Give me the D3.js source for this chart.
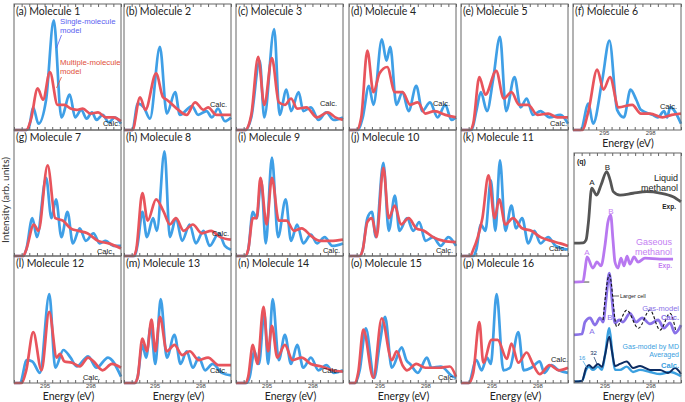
<!DOCTYPE html>
<html><head><meta charset="utf-8">
<script src="https://cdn.jsdelivr.net/npm/d3@7"></script>
<style>body{margin:0;background:#fff}svg{display:block}</style>
</head><body><svg id="c" width="685" height="402"></svg>
<script>
// ---------------- DATA ----------------
const energyDomain = [293, 300];
const tickStep = 0.5;
const tickLabels = [295, 298];
const panelTitles = ["(a) Molecule 1","(b) Molecule 2","(c) Molecule 3","(d) Molecule 4","(e) Molecule 5","(f) Molecule 6",
  "(g) Molecule 7","(h) Molecule 8","(i) Molecule 9","(j) Molecule 10","(k) Molecule 11",
  "(l) Molecule 12","(m) Molecule 13","(n) Molecule 14","(o) Molecule 15","(p) Molecule 16"];

// [energy eV, intensity (fraction of panel height)]
const single1 = [[293,0],[293.8,0],[294.0,0.03],[294.25,0.18],[294.6,0.05],[295.1,0.24],[295.6,0.87],[296.1,0.1],[296.65,0.28],[297.0,0.1],[297.4,0.16],[297.75,0.09],[298.1,0.14],[298.4,0.08],[298.8,0.12],[299.2,0.06],[299.6,0.1],[300,0.05]];
const multi1  = [[293,0],[293.8,0],[294.1,0.08],[294.55,0.33],[294.9,0.24],[295.35,0.46],[295.85,0.2],[296.3,0.2],[296.7,0.17],[297.1,0.16],[297.5,0.17],[298,0.13],[298.5,0.14],[299,0.1],[299.5,0.1],[300,0.07]];
const single2 = [[293,0],[293.55,0],[293.9,0.21],[294.3,0.18],[294.7,0.09],[295.35,0.66],[295.8,0.13],[296.35,0.3],[296.65,0.12],[297.45,0.19],[297.85,0.12],[298.4,0.15],[298.75,0.1],[299.15,0.17],[299.6,0.07],[300,0.1]];
const multi2  = [[293,0],[293.55,0],[294.05,0.26],[294.4,0.16],[295.1,0.45],[295.55,0.26],[295.8,0.24],[296.45,0.17],[297.1,0.12],[297.65,0.22],[298.2,0.16],[298.5,0.18],[299.05,0.12],[300,0.12]];
const single3 = [[293,0],[293.6,0],[294.0,0.1],[294.55,0.55],[294.85,0.1],[295.5,0.8],[295.85,0.12],[296.3,0.32],[296.6,0.15],[297.1,0.3],[297.4,0.15],[297.9,0.18],[298.4,0.08],[298.9,0.14],[299.4,0.08],[300,0.1]];
const multi3  = [[293,0],[293.6,0],[294.0,0.12],[294.45,0.58],[294.85,0.2],[295.35,0.57],[295.8,0.22],[296.2,0.2],[296.6,0.25],[297.0,0.17],[297.6,0.18],[298.3,0.1],[299,0.14],[299.5,0.1],[300,0.08]];
const single4 = [[293,0],[293.6,0],[293.9,0.1],[294.3,0.35],[294.6,0.2],[295.15,0.72],[295.45,0.55],[295.7,0.66],[296.1,0.2],[296.5,0.3],[296.9,0.15],[297.4,0.35],[297.8,0.15],[298.3,0.22],[298.8,0.1],[299.3,0.2],[299.7,0.08],[300,0.1]];
const multi4  = [[293,0],[293.5,0],[293.8,0.1],[294.2,0.63],[294.6,0.3],[295.0,0.45],[295.5,0.5],[296.0,0.3],[296.5,0.3],[297.0,0.2],[297.5,0.22],[298.0,0.13],[298.6,0.15],[299.3,0.12],[300,0.1]];
const single5 = [[293,0],[293.7,0],[294.0,0.15],[294.3,0.3],[294.7,0.15],[295.1,0.4],[295.55,0.74],[295.95,0.15],[296.5,0.42],[296.9,0.18],[297.3,0.25],[297.7,0.12],[298.2,0.15],[298.8,0.1],[299.5,0.12],[300,0.05]];
const multi5  = [[293,0],[293.6,0],[293.8,0.05],[294.2,0.42],[294.6,0.28],[295.3,0.47],[295.8,0.25],[296.3,0.3],[296.8,0.2],[297.4,0.2],[298,0.12],[298.7,0.13],[299.3,0.1],[300,0.1]];
const single6 = [[293,0],[293.5,0],[294.0,0.21],[294.3,0.05],[294.9,0.4],[295.36,0.71],[295.86,0.16],[296.3,0.1],[296.73,0.32],[297.1,0.24],[297.4,0.16],[298.15,0.12],[298.5,0.1],[298.9,0.15],[299.1,0.1],[299.3,0.18],[300,0.05]];
const multi6  = [[293,0],[293.6,0],[294.0,0.15],[294.57,0.48],[294.97,0.32],[295.4,0.42],[295.95,0.18],[296.84,0.2],[297.4,0.13],[298.0,0.13],[298.8,0.1],[299.4,0.12],[300,0.13]];
const single7 = [[293,0],[293.6,0],[293.8,0.05],[294.2,0.3],[294.5,0.15],[295.1,0.62],[295.45,0.3],[295.75,0.45],[296.1,0.15],[296.5,0.35],[296.85,0.1],[297.3,0.22],[297.7,0.12],[298.2,0.18],[298.6,0.1],[299.0,0.12],[299.5,0.08],[300,0.08]];
const multi7  = [[293,0],[293.6,0],[293.8,0.05],[294.3,0.25],[294.6,0.2],[295.2,0.72],[295.7,0.3],[296.2,0.28],[296.7,0.22],[297.2,0.2],[297.8,0.18],[298.5,0.12],[299.2,0.1],[300,0.06]];
const single8 = [[293,0],[293.7,0],[293.9,0.1],[294.2,0.35],[294.5,0.15],[294.9,0.3],[295.15,0.2],[295.65,0.83],[296.0,0.15],[296.4,0.3],[296.8,0.12],[297.3,0.25],[297.7,0.1],[298.2,0.2],[298.6,0.08],[299.2,0.18],[299.6,0.08],[300,0.05]];
const multi8  = [[293,0],[293.6,0],[293.8,0.05],[294.2,0.5],[294.55,0.28],[295.1,0.45],[295.6,0.35],[296.0,0.25],[296.4,0.3],[296.9,0.2],[297.5,0.25],[298.1,0.18],[298.7,0.2],[299.3,0.15],[300,0.13]];
const single9 = [[293,0],[293.6,0],[293.8,0.05],[294.1,0.35],[294.35,0.3],[294.65,0.6],[294.95,0.1],[295.35,0.78],[295.75,0.15],[296.25,0.45],[296.6,0.12],[297.0,0.25],[297.4,0.1],[297.9,0.17],[298.3,0.1],[298.8,0.15],[299.3,0.08],[300,0.1]];
const multi9  = [[293,0],[293.6,0],[293.8,0.05],[294.1,0.3],[294.35,0.3],[294.6,0.62],[295.0,0.25],[295.35,0.62],[295.8,0.28],[296.3,0.28],[296.8,0.2],[297.3,0.22],[297.9,0.16],[298.5,0.12],[299.2,0.12],[300,0.13]];
const single10 = [[293,0],[293.7,0],[293.9,0.05],[294.2,0.3],[294.5,0.35],[294.75,0.15],[295.25,0.74],[295.6,0.2],[296.0,0.48],[296.3,0.2],[296.8,0.3],[297.2,0.2],[297.6,0.27],[298.0,0.12],[298.5,0.15],[299.0,0.08],[299.5,0.15],[300,0.08]];
const multi10  = [[293,0],[293.7,0],[293.9,0.05],[294.2,0.27],[294.5,0.3],[294.8,0.15],[295.25,0.7],[295.6,0.3],[296.0,0.4],[296.4,0.25],[296.9,0.3],[297.4,0.22],[297.9,0.2],[298.5,0.15],[299.2,0.12],[300,0.11]];
const single11 = [[293,0],[293.8,0],[294.0,0.05],[294.3,0.25],[294.6,0.2],[294.95,0.6],[295.25,0.2],[295.55,0.76],[295.9,0.2],[296.3,0.4],[296.6,0.22],[297.0,0.3],[297.4,0.1],[297.8,0.2],[298.2,0.1],[298.7,0.15],[299.2,0.08],[300,0.05]];
const multi11  = [[293,0],[293.6,0],[293.8,0.05],[294.1,0.15],[294.4,0.3],[294.8,0.64],[295.2,0.3],[295.5,0.45],[295.9,0.25],[296.4,0.3],[297.0,0.22],[297.6,0.2],[298.2,0.15],[298.9,0.12],[299.5,0.1],[300,0.08]];
const single12 = [[293,0],[293.4,0],[293.83,0.18],[294.2,0.17],[294.7,0.08],[295.31,0.7],[295.7,0.12],[296.23,0.26],[296.7,0.2],[297.1,0.13],[297.85,0.21],[298.4,0.12],[299.15,0.2],[300,0.05]];
const multi12  = [[293,0],[293.5,0],[293.8,0.1],[294.26,0.4],[294.8,0.1],[295.3,0.56],[295.8,0.2],[296.0,0.23],[296.3,0.17],[296.8,0.16],[297.3,0.13],[297.85,0.2],[298.2,0.17],[298.8,0.1],[299.4,0.15],[300,0.12]];
const single13 = [[293,0],[293.7,0],[293.9,0.05],[294.2,0.3],[294.45,0.2],[294.75,0.45],[295.05,0.15],[295.4,0.66],[295.8,0.2],[296.3,0.38],[296.7,0.15],[297.1,0.25],[297.5,0.12],[297.9,0.2],[298.3,0.1],[298.8,0.15],[299.4,0.08],[300,0.06]];
const multi13  = [[293,0],[293.7,0],[293.9,0.05],[294.2,0.35],[294.5,0.25],[294.8,0.5],[295.05,0.25],[295.35,0.52],[295.8,0.25],[296.3,0.3],[296.8,0.22],[297.3,0.25],[297.9,0.18],[298.5,0.2],[299.2,0.14],[300,0.14]];
const single14 = [[293,0],[293.7,0],[293.9,0.05],[294.2,0.25],[294.5,0.15],[294.85,0.55],[295.1,0.15],[295.4,0.66],[295.8,0.18],[296.2,0.38],[296.6,0.15],[297.0,0.3],[297.4,0.12],[297.9,0.2],[298.4,0.1],[298.9,0.14],[299.4,0.08],[300,0.1]];
const multi14  = [[293,0],[293.6,0],[293.8,0.05],[294.1,0.3],[294.4,0.15],[294.8,0.6],[295.1,0.25],[295.35,0.45],[295.7,0.2],[296.2,0.3],[296.7,0.18],[297.3,0.2],[297.9,0.15],[298.6,0.13],[299.3,0.1],[300,0.09]];
const single15 = [[293,0],[293.4,0],[293.7,0.1],[294.1,0.43],[294.65,0.04],[295.0,0.3],[295.36,0.52],[295.8,0.12],[296.45,0.28],[296.75,0.18],[297.0,0.15],[297.5,0.08],[298.1,0.2],[298.4,0.12],[299.0,0.13],[299.8,0.05],[300,0.04]];
const multi15  = [[293,0],[293.4,0],[293.6,0.08],[293.94,0.42],[294.59,0.04],[295.14,0.51],[295.8,0.18],[296.12,0.25],[296.5,0.14],[296.8,0.1],[297.4,0.15],[298.0,0.12],[298.9,0.12],[299.6,0.13],[300,0.05]];
const single16 = [[293,0],[293.5,0],[294.0,0.18],[294.35,0.1],[294.7,0.2],[294.95,0.15],[295.33,0.7],[295.77,0.1],[296.2,0.12],[296.75,0.4],[297.1,0.1],[297.6,0.12],[298.15,0.17],[298.45,0.08],[298.9,0.14],[299.4,0.1],[300,0.08]];
const multi16  = [[293,0],[293.5,0],[293.8,0.08],[294.2,0.48],[294.46,0.16],[295.0,0.34],[295.4,0.34],[296.0,0.19],[296.3,0.31],[296.75,0.16],[297.3,0.24],[297.7,0.15],[298.15,0.07],[298.8,0.14],[299.4,0.1],[300,0.12]];

const singleSeries = [single1,single2,single3,single4,single5,single6,single7,single8,single9,single10,single11,single12,single13,single14,single15,single16];
const multiSeries  = [multi1,multi2,multi3,multi4,multi5,multi6,multi7,multi8,multi9,multi10,multi11,multi12,multi13,multi14,multi15,multi16];

// panel (q): stacked spectra, intensity as fraction of panel height
const liquidExp = [[293,0.608],[293.59,0.609],[293.79,0.622],[293.94,0.696],[294.16,0.847],[294.48,0.817],[294.77,0.861],[295.14,0.919],[295.36,0.883],[295.57,0.832],[296.01,0.817],[296.86,0.825],[297.76,0.832],[298.63,0.826],[299.48,0.81],[300,0.788]];
const gasExp = [[293,0.439],[293.59,0.441],[293.72,0.491],[293.85,0.548],[294.24,0.5],[294.5,0.526],[294.77,0.509],[295.03,0.6],[295.22,0.7],[295.4,0.73],[295.55,0.622],[295.68,0.526],[295.88,0.5],[296.07,0.543],[296.27,0.509],[296.47,0.552],[296.66,0.517],[296.93,0.548],[297.19,0.526],[297.64,0.543],[298.63,0.539],[299.48,0.539]];
const gasModel = [[293,0.209],[293.52,0.213],[293.72,0.265],[294.05,0.283],[294.37,0.252],[294.7,0.283],[294.9,0.265],[295.09,0.361],[295.31,0.478],[295.49,0.361],[295.68,0.261],[295.95,0.274],[296.2,0.265],[296.66,0.303],[297.06,0.265],[297.45,0.283],[297.97,0.257],[298.5,0.274],[298.89,0.239],[299.28,0.261],[299.61,0.217],[300,0.252]];
const largerCell = [[294.9,0.274],[295.32,0.47],[295.79,0.245],[296.45,0.317],[297.21,0.238],[297.97,0.317],[298.63,0.23],[299.28,0.303],[299.67,0.223]];
const mdAvg16 = [[293,0.006],[293.52,0.009],[293.79,0.057],[293.98,0.07],[294.24,0.057],[294.57,0.071],[294.83,0.057],[295.03,0.122],[295.31,0.238],[295.49,0.143],[295.68,0.057],[296.01,0.057],[296.45,0.071],[296.86,0.048],[297.32,0.057],[297.97,0.048],[298.63,0.039],[299.28,0.048],[300,0.03]];
const mdAvg32 = [[293,0.006],[293.52,0.009],[293.79,0.065],[293.98,0.078],[294.24,0.065],[294.57,0.083],[294.83,0.07],[295.03,0.122],[295.31,0.201],[295.49,0.135],[295.68,0.074],[296.01,0.083],[296.45,0.093],[296.86,0.065],[297.32,0.074],[297.97,0.057],[298.63,0.057],[299.15,0.043],[299.61,0.065],[300,0.039]];

// ---------------- LAYOUT ----------------
const svg = d3.select('#c');
const colLeft = [14,124,236,349,461,573];
const rowTop = [4,130,256];
const PW = 107, PH = 126;
const BLUE = '#3f9fe6', RED = '#e8545c';
const titleFont = 'Lato, "Open Sans", sans-serif';
const annFont = '"Liberation Sans", Arial, sans-serif';
// Calc. label anchor (right end, baseline) relative to panel right / bottom
const calcOffsets = [[-1,-4],[-4,-23],[-6,-24],[-6,-24],[-1,-4],[-4,-21],
  [-7,-2],[-2,-20],[-3,-3],[-3,-3],[-2,-5],
  [-21,-3],[-4,-10],[-4,-10],[-1,-3],[0,-21]];

function panelPos(i){
  if (i < 6) return {r:0, c:i};
  if (i < 11) return {r:1, c:i-6};
  return {r:2, c:i-11};
}
const allTicks = d3.range(energyDomain[0], energyDomain[1] + 1e-9, tickStep);

function drawAxes(g, x, top, bottom, withTop, withLabels){
  const ab = d3.axisBottom(x).tickValues(allTicks).tickSize(-3).tickPadding(1)
    .tickFormat(d => withLabels && tickLabels.includes(d) ? d3.format('d')(d) : '');
  const gb = g.append('g').attr('transform', `translate(0,${bottom})`).call(ab);
  gb.select('.domain').remove();
  gb.selectAll('line').attr('stroke', '#666');
  gb.selectAll('text').attr('font-size', 6).attr('fill', '#444').attr('font-family', annFont);
  if (withTop){
    const at = d3.axisTop(x).tickValues(allTicks).tickSize(-3).tickFormat('');
    const gt = g.append('g').attr('transform', `translate(0,${top})`).call(at);
    gt.select('.domain').remove();
    gt.selectAll('line').attr('stroke', '#666');
  }
}

for (let i = 0; i < 16; i++){
  const {r, c} = panelPos(i);
  const left = colLeft[c], top = rowTop[r];
  const h = r === 2 ? PH + 1 : PH;
  const w = c === 5 ? PW + 1 : PW;
  const bottom = top + h;
  const x = d3.scaleLinear().domain(energyDomain).range([left, left + w]);
  const y = d3.scaleLinear().domain([0, 1]).range([bottom, top]);
  const g = svg.append('g');
  const line = d3.line().x(d => x(d[0])).y(d => y(d[1])).curve(d3.curveMonotoneX);
  g.append('path').datum(singleSeries[i]).attr('d', line).attr('fill','none')
    .attr('stroke', BLUE).attr('stroke-width', 2.7).attr('stroke-linejoin','round');
  g.append('path').datum(multiSeries[i]).attr('d', line).attr('fill','none')
    .attr('stroke', RED).attr('stroke-width', 2.7).attr('stroke-linejoin','round');
  g.append('rect').attr('x', left).attr('y', top).attr('width', w).attr('height', h)
    .attr('fill','none').attr('stroke','#666').attr('stroke-width',1);
  const labels = (r === 2) || (c === 5);
  drawAxes(g, x, top, bottom, r === 0, labels);
  if (labels){
    g.append('text').attr('x', left + w/2 + 1).attr('y', bottom + 16.5).attr('text-anchor','middle')
      .attr('font-family', titleFont).attr('font-size', 10.5).attr('fill','#222').text('Energy (eV)');
  }
  g.append('text').attr('x', left + 2).attr('y', top + 11).attr('font-family', titleFont)
    .attr('font-size', 10.5).attr('fill','#222').text(panelTitles[i]);
  g.append('text').attr('x', left + w + calcOffsets[i][0]).attr('y', bottom + calcOffsets[i][1])
    .attr('text-anchor','end').attr('font-family', annFont).attr('font-size', 7.5).attr('fill','#222').text('Calc.');
}

// annotations in (a)
const ann = svg.append('g').attr('font-family', annFont).attr('font-size', 7.8);
ann.append('text').attr('x', 60).attr('y', 24).attr('fill', '#5a5ef0').text('Single-molecule');
ann.append('text').attr('x', 60).attr('y', 32.5).attr('fill', '#5a5ef0').text('model');
ann.append('line').attr('x1', 61.5).attr('y1', 35).attr('x2', 56.5).attr('y2', 48).attr('stroke', '#5a5ef0').attr('stroke-width', 0.8);
ann.append('text').attr('x', 60).attr('y', 65).attr('fill', '#e0503a').text('Multiple-molecule');
ann.append('text').attr('x', 60).attr('y', 74).attr('fill', '#e0503a').text('model');
ann.append('line').attr('x1', 61.5).attr('y1', 77).attr('x2', 56.5).attr('y2', 88).attr('stroke', '#e0503a').attr('stroke-width', 0.8);

// y-axis label
svg.append('text').attr('transform', 'translate(9,200) rotate(-90)').attr('text-anchor','middle')
  .attr('font-family', titleFont).attr('font-size', 10).attr('fill','#333').text('Intensity (arb. units)');

// ---------------- PANEL (q) ----------------
{
  const left = 574, top = 153, w = 107, h = 230, bottom = top + h;
  const x = d3.scaleLinear().domain(energyDomain).range([left, left + w]);
  const y = d3.scaleLinear().domain([0, 1]).range([bottom, top]);
  const g = svg.append('g');
  const line = d3.line().x(d => x(d[0])).y(d => y(d[1])).curve(d3.curveMonotoneX);
  const draw = (data, color, sw, dash) => {
    const p = g.append('path').datum(data).attr('d', line).attr('fill','none')
      .attr('stroke', color).attr('stroke-width', sw).attr('stroke-linejoin','round');
    if (dash) p.attr('stroke-dasharray', dash);
  };
  draw(liquidExp, '#555555', 2.8);
  g.append('line').attr('x1', x(293)).attr('x2', x(294.0)).attr('y1', y(gasExp[0][1])).attr('y2', y(gasExp[0][1])).attr('stroke','#666').attr('stroke-width',1.2);
  draw(gasExp, '#b878f0', 2.8);
  draw(gasModel, '#8a72e8', 2.8);
  draw(largerCell, '#111', 1.1, '3,2');
  draw(mdAvg16, '#3ba0e0', 2.4);
  draw(mdAvg32, '#0c2c62', 2.0);
  g.append('rect').attr('x', left).attr('y', top).attr('width', w).attr('height', h)
    .attr('fill','none').attr('stroke','#666').attr('stroke-width',1);
  drawAxes(g, x, top, bottom, true, true);
  g.append('text').attr('x', left + w/2 + 1).attr('y', bottom + 16.5).attr('text-anchor','middle')
    .attr('font-family', titleFont).attr('font-size', 10.5).attr('fill','#222').text('Energy (eV)');

  const t = (tx, ty, s, color, size, opts = {}) => {
    const e = g.append('text').attr('x', tx).attr('y', ty).attr('font-family', annFont)
      .attr('font-size', size).attr('fill', color).text(s);
    if (opts.anchor) e.attr('text-anchor', opts.anchor);
    if (opts.bold) e.attr('font-weight', 'bold');
    return e;
  };
  t(577, 164, '(q)', '#222', 7, {bold:true});
  t(592, 185, 'A', '#222', 8, {anchor:'middle'});
  t(607.5, 170, 'B', '#222', 8, {anchor:'middle'});
  t(678, 181, 'Liquid', '#222', 9, {anchor:'end'});
  t(678, 191, 'methanol', '#222', 9, {anchor:'end'});
  t(676, 209, 'Exp.', '#222', 6.5, {anchor:'end', bold:true});
  t(587, 255, 'A', '#c47ef2', 8, {anchor:'middle'});
  t(611, 214, 'B', '#c47ef2', 8, {anchor:'middle'});
  t(672, 245, 'Gaseous', '#c47ef2', 9, {anchor:'end'});
  t(672, 255, 'methanol', '#c47ef2', 9, {anchor:'end'});
  t(672, 268, 'Exp.', '#c47ef2', 6.5, {anchor:'end', bold:true});
  t(620, 298, 'Larger cell', '#222', 5.5);
  g.append('line').attr('x1', 613).attr('y1', 296).attr('x2', 619).attr('y2', 296).attr('stroke','#222').attr('stroke-width',0.7);
  t(679, 311, 'Gas-model', '#8a72e8', 7.5, {anchor:'end'});
  t(679, 320, 'Calc.', '#8a72e8', 7.5, {anchor:'end', bold:true});
  t(592, 334, 'A', '#8a72e8', 8, {anchor:'middle'});
  t(610, 320, 'B', '#8a72e8', 8, {anchor:'middle'});
  t(679, 349, 'Gas-model by MD', '#3ba0e0', 7, {anchor:'end'});
  t(679, 357, 'Averaged', '#3ba0e0', 7, {anchor:'end'});
  t(679, 368, 'Calc.', '#3ba0e0', 7.5, {anchor:'end', bold:true});
  t(582, 360, '16', '#3ba0e0', 6, {anchor:'middle'});
  t(593.5, 355, '32', '#0c2c62', 6, {anchor:'middle'});
  g.append('line').attr('x1', 583).attr('y1', 361).attr('x2', 587).attr('y2', 368).attr('stroke','#3ba0e0').attr('stroke-width',0.7);
  g.append('line').attr('x1', 594).attr('y1', 357).attr('x2', 597).attr('y2', 364).attr('stroke','#0c2c62').attr('stroke-width',0.7);
}
</script></body></html>
